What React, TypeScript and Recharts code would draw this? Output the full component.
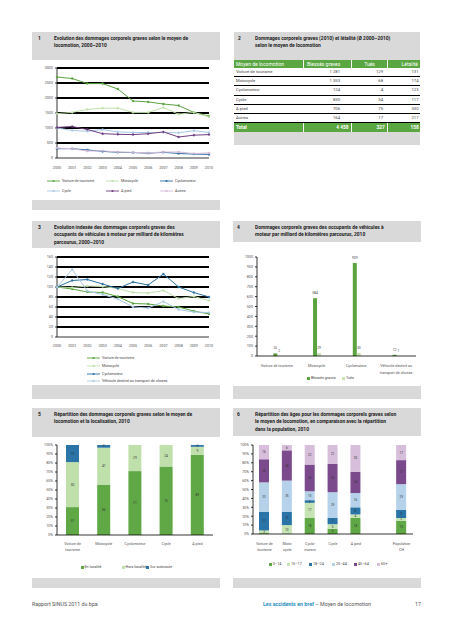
import React from 'react';
import { LineChart, Line, BarChart, Bar, XAxis, YAxis, ReferenceLine, Legend, LabelList } from 'recharts';

const FONT = "Roboto, 'Noto Sans', Arial, sans-serif";

// ---------- Chart 1 data ----------
const years = ['2000', '2001', '2002', '2003', '2004', '2005', '2006', '2007', '2008', '2009', '2010'];
const voitureAbs = [2700, 2650, 2480, 2480, 2300, 1900, 1870, 1800, 1750, 1520, 1400];
const motoAbs = [1480, 1520, 1620, 1660, 1660, 1520, 1520, 1680, 1460, 1520, 1370];
const cyclomoteurAbs = [310, 310, 270, 220, 190, 180, 160, 190, 150, 130, 120];
const cycleAbs = [1000, 920, 890, 950, 870, 850, 850, 850, 840, 910, 850];
const piedAbs = [1020, 1050, 950, 810, 790, 780, 810, 870, 700, 760, 780];
const autresAbs = [330, 310, 230, 240, 200, 190, 170, 200, 200, 150, 170];
const ticks1 = [0, 500, 1000, 1500, 2000, 2500, 3000];

// ---------- Table 2 data ----------
const headers2 = ['Moyen de locomotion', 'Blessés graves', 'Tués', 'Létalité'];
const modes2 = ['Voiture de tourisme', 'Motocycle', 'Cyclomoteur', 'Cycle', 'A pied', 'Autres'];
const blesses2 = [1281, 1353, 124, 830, 706, 164];
const tues2 = [129, 68, 4, 34, 75, 17];
const letalite2 = [131, 174, 123, 117, 330, 217];
const totalRow2 = ['Total', 4458, 327, 158];

// ---------- Chart 3 data ----------
const voitureIdx = [100, 96, 90, 89, 81, 67, 66, 62, 60, 52, 46];
const motoIdx = [100, 99, 102, 101, 97, 89, 88, 93, 77, 81, 73];
const cycloIdx = [100, 113, 115, 106, 97, 110, 104, 126, 100, 89, 80];
const vehiculeIdx = [100, 135, 92, 85, 76, 60, 58, 71, 55, 50, 49];
const ticks3 = [0, 20, 40, 60, 80, 100, 120, 140, 160];

// ---------- Chart 4 data ----------
const cats4 = ['Voiture de tourisme', 'Motocycle', 'Cyclomoteur', 'Véhicule destiné au\ntransport de choses'];
const blesses4 = [26, 584, 939, 12];
const tues4 = [2, 29, 30, 1];
const ticks4 = [0, 100, 200, 300, 400, 500, 600, 700, 800, 900, 1000];

// ---------- Chart 5 data ----------
const cats5 = ['Voiture de\ntourisme', 'Motocycle', 'Cyclomoteur', 'Cycle', 'A pied'];
const enLocalite = [31, 56, 71, 76, 89];
const horsLocalite = [50, 41, 29, 24, 9];
const surAutoroute = [19, 3, 0, 0, 2];
const pctTicks = [0, 10, 20, 30, 40, 50, 60, 70, 80, 90, 100];

// ---------- Chart 6 data ----------
const cats6 = ['Voiture de\ntourisme', 'Moto-\ncycle', 'Cyclo-\nmoteur', 'Cycle', 'A pied', ' ', 'Population\nCH'];
const age0_14 = [1, 0, 18, 6, 18, 0, 15];
const age15_17 = [3, 10, 17, 5, 4, 0, 3];
const age18_24 = [21, 15, 3, 7, 8, 0, 9];
const age25_44 = [33, 35, 10, 29, 16, 0, 29];
const age45_64 = [26, 34, 30, 32, 24, 0, 27];
const age65 = [16, 6, 22, 21, 30, 0, 17];

// ---------- colours ----------
const C = {
  green: '#5aa33f',
  lgreen: '#bfe0ab',
  dblue: '#2b71a3',
  lblue: '#a9c9e6',
  purple: '#6f3e80',
  lpurple: '#d8bbd9',
  gray: '#d9d9d9',
};

const series1 = [
  { key: 'voiture', name: 'Voiture de tourisme', color: C.green },
  { key: 'moto', name: 'Motocycle', color: C.lgreen },
  { key: 'cyclomoteur', name: 'Cyclomoteur', color: C.dblue },
  { key: 'cycle', name: 'Cycle', color: C.lblue },
  { key: 'pied', name: 'A pied', color: C.purple },
  { key: 'autres', name: 'Autres', color: C.lpurple },
];
const data1 = years.map((y, i) => ({
  year: y,
  voiture: voitureAbs[i],
  moto: motoAbs[i],
  cyclomoteur: cyclomoteurAbs[i],
  cycle: cycleAbs[i],
  pied: piedAbs[i],
  autres: autresAbs[i],
}));

const series3 = [
  { key: 'voiture', name: 'Voiture de tourisme', color: C.green },
  { key: 'moto', name: 'Motocycle', color: C.lgreen },
  { key: 'cyclo', name: 'Cyclomoteur', color: C.dblue },
  { key: 'vehicule', name: 'Véhicule destiné au transport de choses', color: C.lblue },
];
const data3 = years.map((y, i) => ({
  year: y,
  voiture: voitureIdx[i],
  moto: motoIdx[i],
  cyclo: cycloIdx[i],
  vehicule: vehiculeIdx[i],
}));

const data4 = cats4.map((c, i) => ({ cat: c, blesses: blesses4[i], tues: tues4[i] }));
const data5 = cats5.map((c, i) => ({ cat: c, en: enLocalite[i], hors: horsLocalite[i], sur: surAutoroute[i] }));
const data6 = cats6.map((c, i) => ({
  cat: c,
  a: age0_14[i],
  b: age15_17[i],
  c: age18_24[i],
  d: age25_44[i],
  e: age45_64[i],
  f: age65[i],
}));

const series5 = [
  { key: 'en', name: 'En localité', color: '#5fa845' },
  { key: 'hors', name: 'Hors localité', color: C.lgreen },
  { key: 'sur', name: 'Sur autoroute', color: '#2a74a8' },
];
const series6 = [
  { key: 'a', name: '0–14', color: '#5fa845' },
  { key: 'b', name: '15–17', color: '#c6e3b3' },
  { key: 'c', name: '18–24', color: '#2a74a8' },
  { key: 'd', name: '25–44', color: '#b5d2ea' },
  { key: 'e', name: '45–64', color: '#7b4a8c' },
  { key: 'f', name: '65+', color: '#d7bedb' },
];

const fmt = (n: number) => String(n).replace(/\B(?=(\d{3})+(?!\d))/g, ' ');

const tickStyle = { fontSize: 3.7, fill: '#555', fontFamily: FONT };
const axisBlack = { stroke: '#000', strokeWidth: 0.8 };

const MultiTick = (props: any) => {
  const { x, y, payload, first = 9, gap = 6 } = props;
  const lines = String(payload?.value ?? '').split('\n');
  return (
    <g>
      {lines.map((l: string, i: number) => (
        <text
          key={i}
          x={x}
          y={y + first + i * gap}
          textAnchor="middle"
          dominantBaseline="central"
          fontSize={3.7}
          fill="#555"
          fontFamily={FONT}
        >
          {l}
        </text>
      ))}
    </g>
  );
};

const LineIcon = ({ color }: { color: string }) => (
  <svg width={13} height={4} style={{ display: 'block', flex: 'none' }}>
    <line x1={0} y1={2} x2={13} y2={2} stroke={color} strokeWidth={0.9} />
    <circle cx={6.5} cy={2} r={1.1} fill={color} />
  </svg>
);
const SquareIcon = ({ color }: { color: string }) => (
  <svg width={3} height={3} style={{ display: 'block', flex: 'none' }}>
    <rect x={0} y={0} width={3} height={3} fill={color} />
  </svg>
);

const legendText: React.CSSProperties = {
  position: 'absolute',
  display: 'flex',
  alignItems: 'center',
  gap: 2,
  fontSize: 3.7,
  lineHeight: '6px',
  height: 6,
  color: '#444',
  whiteSpace: 'nowrap',
  fontFamily: FONT,
};

const Legend1 = () => {
  const cols = [15, 74, 128];
  const rows = [2, 12];
  return (
    <div style={{ position: 'relative', height: 22 }}>
      {series1.map((s, i) => (
        <div key={s.key} style={{ ...legendText, left: cols[i % 3], top: rows[Math.floor(i / 3)] }}>
          <LineIcon color={s.color} />
          <span>{s.name}</span>
        </div>
      ))}
    </div>
  );
};

const Legend3 = () => {
  const rows = [2, 9.8, 17.6, 25.4];
  return (
    <div style={{ position: 'relative', height: 32 }}>
      {series3.map((s, i) => (
        <div key={s.key} style={{ ...legendText, left: 55, top: rows[i] }}>
          <LineIcon color={s.color} />
          <span>{s.name}</span>
        </div>
      ))}
    </div>
  );
};

const SquareLegend = ({ items, lefts, height }: { items: { key: string; name: string; color: string }[]; lefts: number[]; height: number }) => (
  <div style={{ position: 'relative', height }}>
    {items.map((s, i) => (
      <div key={s.key} style={{ ...legendText, gap: 1, left: lefts[i], top: (height - 6) / 2 }}>
        <SquareIcon color={s.color} />
        <span>{s.name}</span>
      </div>
    ))}
  </div>
);

const series4 = [
  { key: 'blesses', name: 'Blessés graves', color: C.green },
  { key: 'tues', name: 'Tués', color: '#c6e3b3' },
];

const Title = ({ num, lines, numLeft = 5, textLeft = 22 }: { num: string; lines: string[]; numLeft?: number; textLeft?: number }) => (
  <>
    <div style={{ position: 'absolute', left: numLeft, top: 2.5, fontSize: 4.9, lineHeight: '7.5px', fontWeight: 700, color: '#1a1a1a' }}>{num}</div>
    <div style={{ position: 'absolute', left: textLeft, top: 2.5, fontSize: 4.9, lineHeight: '7.5px', fontWeight: 700, color: '#1a1a1a', whiteSpace: 'nowrap' }}>
      {lines.map((l, i) => (
        <div key={i}>{l}</div>
      ))}
    </div>
  </>
);

const Panel = ({ left, top, width, height, children }: any) => (
  <div style={{ position: 'absolute', left, top, width, height, background: C.gray, fontFamily: FONT }}>{children}</div>
);

const White = ({ top, height, children }: any) => (
  <div style={{ position: 'absolute', left: 0, top, width: '100%', height, background: '#fff' }}>{children}</div>
);

const valLabel = (v: any) => (Number(v) >= 2 ? String(v) : '');

const Table2 = () => {
  const cols = [69, 48, 36, 33];
  const cell = (w: number, extra: React.CSSProperties = {}): React.CSSProperties => ({
    width: w,
    boxSizing: 'border-box',
    whiteSpace: 'nowrap',
    overflow: 'hidden',
    ...extra,
  });
  return (
    <div style={{ position: 'absolute', left: 0, top: 28, width: 186 }}>
      <div style={{ display: 'flex', height: 8.3, lineHeight: '8.3px', background: '#5aa641', color: '#fff', fontSize: 5 }}>
        <div style={cell(cols[0], { paddingLeft: 2 })}>{headers2[0]}</div>
        <div style={cell(cols[1], { paddingLeft: 3, borderLeft: '1px solid #fff' })}>{headers2[1]}</div>
        <div style={cell(cols[2], { textAlign: 'center', borderLeft: '1px solid #fff' })}>{headers2[2]}</div>
        <div style={cell(cols[3], { textAlign: 'right', paddingRight: 2, borderLeft: '1px solid #fff' })}>{headers2[3]}</div>
      </div>
      {modes2.map((m, i) => (
        <div key={m} style={{ display: 'flex', height: 9.1, lineHeight: '8.1px', background: '#fff', color: '#444', fontSize: 4.2, borderBottom: '1px solid #000', boxSizing: 'border-box' }}>
          <div style={cell(cols[0], { paddingLeft: 2 })}>{m}</div>
          <div style={cell(cols[1], { textAlign: 'right', paddingRight: 11 })}>{fmt(blesses2[i])}</div>
          <div style={cell(cols[2], { textAlign: 'right', paddingRight: 4 })}>{tues2[i]}</div>
          <div style={cell(cols[3], { textAlign: 'right', paddingRight: 1.5 })}>{letalite2[i]}</div>
        </div>
      ))}
      <div style={{ display: 'flex', height: 9, lineHeight: '9px', background: '#5aa641', color: '#fff', fontSize: 4.8, fontWeight: 700 }}>
        <div style={cell(cols[0], { paddingLeft: 2 })}>{totalRow2[0]}</div>
        <div style={cell(cols[1], { textAlign: 'right', paddingRight: 2.5, borderLeft: '1px solid #fff' })}>{fmt(totalRow2[1] as number)}</div>
        <div style={cell(cols[2], { textAlign: 'right', paddingRight: 2.3, borderLeft: '1px solid #fff' })}>{totalRow2[2]}</div>
        <div style={cell(cols[3], { textAlign: 'right', paddingRight: 1.3, borderLeft: '1px solid #fff' })}>{totalRow2[3]}</div>
      </div>
    </div>
  );
};

const gridLine = { stroke: '#000', strokeWidth: 2 };

export default function App() {
  return (
    <div style={{ position: 'absolute', left: 0, top: 0, width: 453, height: 640, background: '#fff', fontFamily: FONT, overflow: 'hidden' }}>
      {/* Panel 1 */}
      <Panel left={32} top={32} width={188} height={178}>
        <Title num="1" lines={['Evolution des dommages corporels graves selon le moyen de', 'locomotion, 2000–2010']} numLeft={6} textLeft={22} />
        <White top={28} height={140}>
          <LineChart width={188} height={140} data={data1} margin={{ top: 8, right: 11, left: 0, bottom: 2 }}>
            <XAxis dataKey="year" tick={(p: any) => <MultiTick {...p} first={10} />} tickLine={false} tickSize={0} tickMargin={0} axisLine={axisBlack} height={18} interval={0} />
            <YAxis domain={[0, 3000]} ticks={ticks1} interval={0} width={25} tick={tickStyle} tickSize={2} tickMargin={2} axisLine={axisBlack} tickLine={axisBlack} />
            {ticks1.filter((t) => t > 0).map((t) => (
              <ReferenceLine key={t} y={t} {...gridLine} />
            ))}
            <Legend verticalAlign="bottom" content={() => <Legend1 />} />
            {series1.map((s) => (
              <Line key={s.key} dataKey={s.key} name={s.name} stroke={s.color} strokeWidth={1} dot={{ r: 1, fill: s.color, stroke: s.color, strokeWidth: 0.4 }} isAnimationActive={false} />
            ))}
          </LineChart>
        </White>
      </Panel>

      {/* Panel 2 */}
      <Panel left={234} top={32} width={186} height={113}>
        <Title num="2" lines={['Dommages corporels graves (2010) et létalité (Ø 2000–2010)', 'selon le moyen de locomotion']} numLeft={4} textLeft={21} />
        <Table2 />
      </Panel>

      {/* Panel 3 */}
      <Panel left={32} top={221} width={188} height={178}>
        <Title num="3" lines={['Evolution indexée des dommages corporels graves des', 'occupants de véhicules à moteur par milliard de kilomètres', 'parcourus, 2000–2010']} numLeft={6} textLeft={22} />
        <White top={27} height={137}>
          <LineChart width={188} height={137} data={data3} margin={{ top: 9, right: 11, left: 0, bottom: 0 }}>
            <XAxis dataKey="year" tick={(p: any) => <MultiTick {...p} first={9} />} tickLine={false} tickSize={0} tickMargin={0} axisLine={axisBlack} height={16} interval={0} />
            <YAxis domain={[0, 160]} ticks={ticks3} interval={0} width={25} tick={tickStyle} tickSize={2} tickMargin={2} axisLine={axisBlack} tickLine={axisBlack} />
            {ticks3.filter((t) => t > 0).map((t) => (
              <ReferenceLine key={t} y={t} {...gridLine} />
            ))}
            <Legend verticalAlign="bottom" content={() => <Legend3 />} />
            {series3.map((s) => (
              <Line key={s.key} dataKey={s.key} name={s.name} stroke={s.color} strokeWidth={1} dot={{ r: 1, fill: s.color, stroke: s.color, strokeWidth: 0.4 }} isAnimationActive={false} />
            ))}
          </LineChart>
        </White>
      </Panel>

      {/* Panel 4 */}
      <Panel left={233} top={221} width={188} height={178}>
        <Title num="4" lines={['Dommages corporels graves des occupants de véhicules à', 'moteur par milliard de kilomètres parcourus, 2010']} numLeft={4} textLeft={22} />
        <White top={21} height={144}>
          <BarChart width={188} height={144} data={data4} margin={{ top: 15, right: 5, left: 0, bottom: 4 }} barGap={0} barCategoryGap="41%">
            <XAxis dataKey="cat" tick={(p: any) => <MultiTick {...p} first={9.7} gap={7.3} />} tickLine={false} tickSize={0} tickMargin={0} axisLine={axisBlack} height={18} interval={0} />
            <YAxis domain={[0, 1000]} ticks={ticks4} interval={0} width={24} tick={tickStyle} tickSize={2} tickMargin={2} axisLine={axisBlack} tickLine={axisBlack} />
            <Legend verticalAlign="bottom" content={() => <SquareLegend items={series4} lefts={[74, 109]} height={8} />} />
            {series4.map((s) => (
              <Bar key={s.key} dataKey={s.key} name={s.name} fill={s.color} isAnimationActive={false}>
                <LabelList dataKey={s.key} position="top" offset={4} style={{ fontSize: 3.3, fill: '#444', fontFamily: FONT }} />
              </Bar>
            ))}
          </BarChart>
        </White>
      </Panel>

      {/* Panel 5 */}
      <Panel left={32} top={408} width={188} height={180}>
        <Title num="5" lines={['Répartition des dommages corporels graves selon le moyen de', 'locomotion et la localisation, 2010']} numLeft={6} textLeft={22} />
        <White top={29} height={141}>
          <BarChart width={188} height={141} data={data5} margin={{ top: 8, right: 7, left: 0, bottom: 7 }} barSize={13}>
            <XAxis dataKey="cat" tick={(p: any) => <MultiTick {...p} first={9} gap={6} />} tickLine={false} tickSize={0} tickMargin={0} axisLine={axisBlack} height={28} interval={0} />
            <YAxis domain={[0, 100]} ticks={pctTicks} interval={0} width={25} tick={tickStyle} tickSize={2} tickMargin={2} axisLine={axisBlack} tickLine={axisBlack} tickFormatter={(v: number) => `${v}%`} />
            <Legend verticalAlign="bottom" content={() => <SquareLegend items={series5} lefts={[48.5, 89.5, 114]} height={8} />} />
            {series5.map((s) => (
              <Bar key={s.key} dataKey={s.key} name={s.name} stackId="a" fill={s.color} isAnimationActive={false}>
                <LabelList dataKey={s.key} position="center" formatter={valLabel} style={{ fontSize: 3.2, fill: '#333', fontFamily: FONT }} />
              </Bar>
            ))}
          </BarChart>
        </White>
      </Panel>

      {/* Panel 6 */}
      <Panel left={233} top={408} width={188} height={180}>
        <Title num="6" lines={['Répartition des âges pour les dommages corporels graves selon', 'le moyen de locomotion, en comparaison avec la répartition', 'dans la population, 2010']} numLeft={4} textLeft={22} />
        <White top={28} height={142}>
          <BarChart width={188} height={142} data={data6} margin={{ top: 9, right: 8, left: 0, bottom: 10 }} barSize={10}>
            <XAxis dataKey="cat" tick={(p: any) => <MultiTick {...p} first={10} gap={6} />} tickLine={false} tickSize={0} tickMargin={0} axisLine={axisBlack} height={26} interval={0} />
            <YAxis domain={[0, 100]} ticks={pctTicks} interval={0} width={20} tick={tickStyle} tickSize={2} tickMargin={2} axisLine={axisBlack} tickLine={axisBlack} tickFormatter={(v: number) => `${v}%`} />
            <Legend verticalAlign="bottom" content={() => <SquareLegend items={series6} lefts={[35.7, 54, 76, 99, 121, 144]} height={8} />} />
            {series6.map((s) => (
              <Bar key={s.key} dataKey={s.key} name={s.name} stackId="a" fill={s.color} isAnimationActive={false}>
                <LabelList dataKey={s.key} position="center" formatter={valLabel} style={{ fontSize: 3, fill: '#333', fontFamily: FONT }} />
              </Bar>
            ))}
          </BarChart>
        </White>
      </Panel>

      {/* Footer */}
      <div style={{ position: 'absolute', left: 32, top: 601, fontSize: 5.3, lineHeight: '7px', color: '#555', whiteSpace: 'nowrap' }}>Rapport SINUS 2011 du bpa</div>
      <div style={{ position: 'absolute', left: 263, top: 601, fontSize: 5.3, lineHeight: '7px', color: '#555', whiteSpace: 'nowrap' }}>
        <span style={{ color: '#2a8fc0', fontWeight: 700 }}>Les accidents en bref</span> – Moyen de locomotion
      </div>
      <div style={{ position: 'absolute', left: 415, top: 601, fontSize: 5.3, lineHeight: '7px', color: '#555' }}>17</div>
    </div>
  );
}
